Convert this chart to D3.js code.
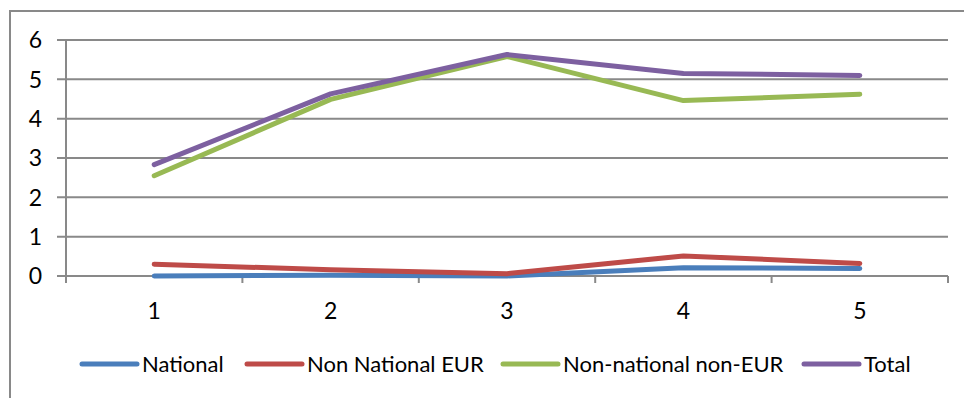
<!DOCTYPE html>
<html><head><meta charset="utf-8">
<script src="https://cdn.jsdelivr.net/npm/d3@7"></script>
<style>html,body{margin:0;padding:0;background:#fff;}svg{display:block;}</style>
</head><body>
<svg id="chart" width="964" height="398"></svg>
<script>
const categories = ["1","2","3","4","5"];
const seriesNames = ["National","Non National EUR","Non-national non-EUR","Total"];
const national = [0.0, 0.02, 0.0, 0.21, 0.19];
const nonNationalEUR = [0.30, 0.16, 0.06, 0.51, 0.32];
const nonNationalNonEUR = [2.55, 4.49, 5.58, 4.46, 4.62];
const total = [2.83, 4.63, 5.63, 5.15, 5.10];
const yTicks = [0,1,2,3,4,5,6];
const colors = ["#4A7EBB","#BE4B48","#98B954","#7D60A0"];

(function(){
const series = [national, nonNationalEUR, nonNationalNonEUR, total];
const svg = d3.select("#chart");
const font = "Lato, 'Open Sans', sans-serif";
const grid = "#898989";

// outer frame
svg.append("rect").attr("x",10).attr("y",11).attr("width",1000).attr("height",1000)
  .attr("fill","none").attr("stroke",grid).attr("stroke-width",2);

const pL = 66, pR = 948, pT = 40, pB = 276;
const x = d3.scaleBand().domain(categories).range([pL,pR]).padding(0);
const y = d3.scaleLinear().domain([0,6]).range([pB,pT]);

// gridlines
svg.append("g").selectAll("line").data(yTicks).join("line")
  .attr("x1",pL-9).attr("x2",pR).attr("y1",d=>y(d)).attr("y2",d=>y(d))
  .attr("stroke",grid).attr("stroke-width",2);

// y axis line
svg.append("line").attr("x1",pL).attr("x2",pL).attr("y1",pT).attr("y2",pB+7)
  .attr("stroke",grid).attr("stroke-width",2);

// x tick marks at category boundaries
const bounds = categories.map(c=>x(c)).concat([pR]);
svg.append("g").selectAll("line").data(bounds).join("line")
  .attr("x1",d=>d).attr("x2",d=>d).attr("y1",pB).attr("y2",pB+7)
  .attr("stroke",grid).attr("stroke-width",2);

// y labels
svg.append("g").selectAll("text").data(yTicks).join("text")
  .attr("x",42).attr("y",d=>y(d)).attr("dy","0.36em").attr("text-anchor","end")
  .attr("font-family",font).attr("font-size",23).attr("fill","#000").text(d=>d);

// x labels
svg.append("g").selectAll("text").data(categories).join("text")
  .attr("x",d=>x(d)+x.bandwidth()/2).attr("y",319).attr("text-anchor","middle")
  .attr("font-family",font).attr("font-size",23).attr("fill","#000").text(d=>d);

// lines
const line = d3.line().x((d,i)=>x(categories[i])+x.bandwidth()/2).y(d=>y(d));
series.forEach((s,k)=>{
  svg.append("path").datum(s).attr("d",line).attr("fill","none")
    .attr("stroke",colors[k]).attr("stroke-width",5)
    .attr("stroke-linecap","round").attr("stroke-linejoin","round");
});

// legend
const legX = [82, 247, 503, 804];
const lg = svg.append("g");
seriesNames.forEach((n,k)=>{
  lg.append("line").attr("x1",legX[k]).attr("x2",legX[k]+55).attr("y1",364).attr("y2",364)
    .attr("stroke",colors[k]).attr("stroke-width",5).attr("stroke-linecap","round");
  lg.append("text").attr("x",legX[k]+60).attr("y",364).attr("dy","0.36em")
    .attr("font-family",font).attr("font-size",22).attr("fill","#000").text(n);
});
})();
</script>
</body></html>
